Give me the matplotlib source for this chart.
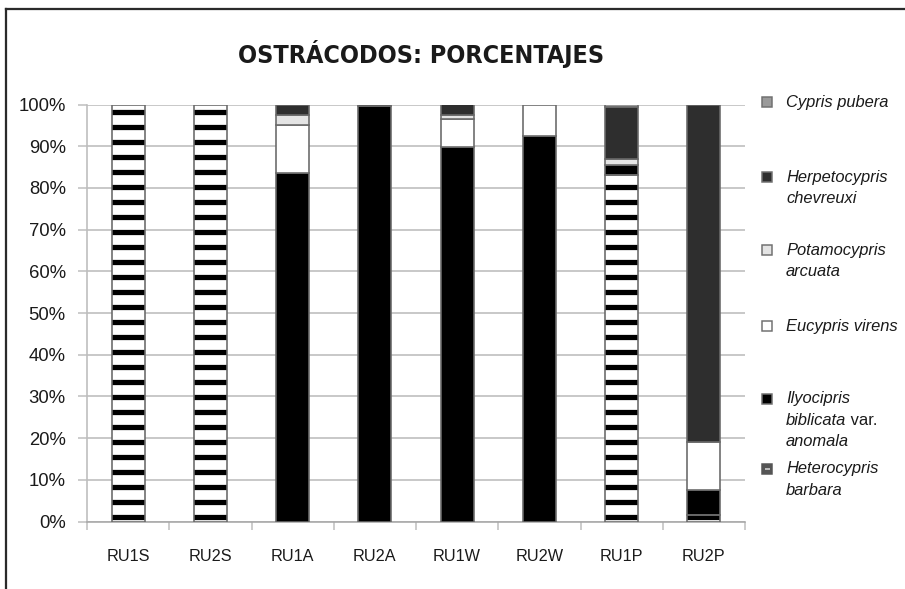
import numpy as np
import matplotlib.pyplot as plt
from matplotlib.patches import Rectangle
from matplotlib.lines import Line2D

plt.rcParams['font.family'] = ['Liberation Sans', 'DejaVu Sans']
plt.rcParams['hatch.linewidth'] = 4.2

DPI = 90
W, H = 905, 589

sites = ['RU1S', 'RU2S', 'RU1A', 'RU2A', 'RU1W', 'RU2W', 'RU1P', 'RU2P']

# porcentajes por especie, de abajo a arriba en cada columna
heterocypris = [100, 100, 0, 0, 0, 0, 83.2, 1.5]
ilyocipris = [0, 0, 83.6, 99.6, 89.7, 92.4, 2.2, 6.0]
eucypris = [0, 0, 11.6, 0, 6.9, 7.6, 0, 11.6]
potamocypris = [0, 0, 2.4, 0, 1.0, 0, 1.5, 0]
herpetocypris = [0, 0, 2.4, 0.4, 2.4, 0, 12.6, 80.9]
cypris = [0, 0, 0, 0, 0, 0, 0.5, 0]

# (datos, relleno, trama)
series = [
    (heterocypris, 'white', '-'),
    (ilyocipris, 'black', None),
    (eucypris, 'white', None),
    (potamocypris, '#e4e4e4', None),
    (herpetocypris, '#2e2e2e', None),
    (cypris, '#9a9a9a', None),
]

fig = plt.figure(figsize=(W / DPI, H / DPI), dpi=DPI)
ax = fig.add_axes([87 / W, (H - 521.5) / H, (745 - 87) / W, (521.5 - 104.5) / H])

x = np.arange(len(sites))
bottom = np.zeros(len(sites))
for vals, face, hatch in series:
    vals = np.array(vals, dtype=float)
    m = vals > 0
    if hatch:
        ax.bar(x[m], vals[m], 0.4, bottom=bottom[m], color=face, edgecolor='black',
               hatch=hatch, linewidth=0, zorder=3)
        ax.bar(x[m], vals[m], 0.4, bottom=bottom[m], fill=False, edgecolor='#6a6a6a',
               linewidth=1.3, zorder=4)
    else:
        ax.bar(x[m], vals[m], 0.4, bottom=bottom[m], color=face, edgecolor='#6a6a6a',
               linewidth=1.3, zorder=3)
    bottom += vals

ax.set_xlim(-0.5, len(sites) - 0.5)
ax.set_ylim(0, 100)
yt = np.arange(0, 101, 10)
ax.set_yticks(yt)
ax.set_yticklabels([f'{v}%' for v in yt], fontsize=14.8, color='#1a1a1a')
ax.tick_params(axis='y', length=7, color='#bdbdbd', width=1.2, pad=10)
ax.grid(axis='y', color='#bdbdbd', linewidth=1.3, zorder=0)

ax.set_xticks(x)
ax.set_xticklabels(sites, fontsize=13, color='#1a1a1a')
ax.set_xticks(np.arange(-0.5, len(sites)), minor=True)
ax.tick_params(axis='x', which='major', length=0, pad=22)
ax.tick_params(axis='x', which='minor', length=6, color='#bdbdbd', width=1.2)

for s in ['top', 'right']:
    ax.spines[s].set_visible(False)
ax.spines['left'].set_color('#bdbdbd')
ax.spines['left'].set_linewidth(1.3)
ax.spines['bottom'].set_color('#a8a8a8')
ax.spines['bottom'].set_linewidth(1.3)

# título
fig.text(421 / W, 1 - 54 / H, 'OSTRÁCODOS: PORCENTAJES', ha='center', va='center',
         fontsize=20, weight='bold', family='DejaVu Sans', fontstretch='condensed',
         color='#1a1a1a')

# marco exterior
fig.add_artist(Line2D([6 / W, 1], [1 - 9 / H, 1 - 9 / H], transform=fig.transFigure,
                      color='#2a2a2a', linewidth=1.8))
fig.add_artist(Line2D([6 / W, 6 / W], [0, 1 - 9 / H], transform=fig.transFigure,
                      color='#2a2a2a', linewidth=1.8))

# leyenda: líneas de texto como trozos (texto, cursiva)
legend = [
    ('#9a9a9a', None, 102, [[('Cypris pubera', True)]]),
    ('#2e2e2e', None, 177, [[('Herpetocypris', True)], [('chevreuxi', True)]]),
    ('#e4e4e4', None, 250, [[('Potamocypris', True)], [('arcuata', True)]]),
    ('white', None, 326, [[('Eucypris virens', True)]]),
    ('black', None, 399, [[('Ilyocipris', True)],
                          [('biblicata', True), (' var.', False)],
                          [('anomala', True)]]),
    ('white', '-', 469, [[('Heterocypris', True)], [('barbara', True)]]),
]

fig.canvas.draw()
renderer = fig.canvas.get_renderer()
for face, hatch, yc, lines in legend:
    if hatch:
        fig.add_artist(Rectangle((762 / W, 1 - (yc + 5) / H), 10 / W, 10 / H,
                                 transform=fig.transFigure, facecolor='#555555',
                                 edgecolor='#555555', linewidth=1.2))
        fig.add_artist(Rectangle((764.5 / W, 1 - (yc + 1.2) / H), 5 / W, 2.4 / H,
                                 transform=fig.transFigure, facecolor='#bbbbbb',
                                 linewidth=0))
    else:
        fig.add_artist(Rectangle((762 / W, 1 - (yc + 5) / H), 10 / W, 10 / H,
                                 transform=fig.transFigure, facecolor=face,
                                 edgecolor='#707070', linewidth=1.2))
    for i, pieces in enumerate(lines):
        xpos = 786
        for txt, italic in pieces:
            t = fig.text(xpos / W, 1 - (yc + i * 21.5) / H, txt, ha='left', va='center',
                         fontsize=13.2, style='italic' if italic else 'normal',
                         color='#1a1a1a')
            xpos += t.get_window_extent(renderer).width

fig.savefig('out.png', dpi=DPI)
